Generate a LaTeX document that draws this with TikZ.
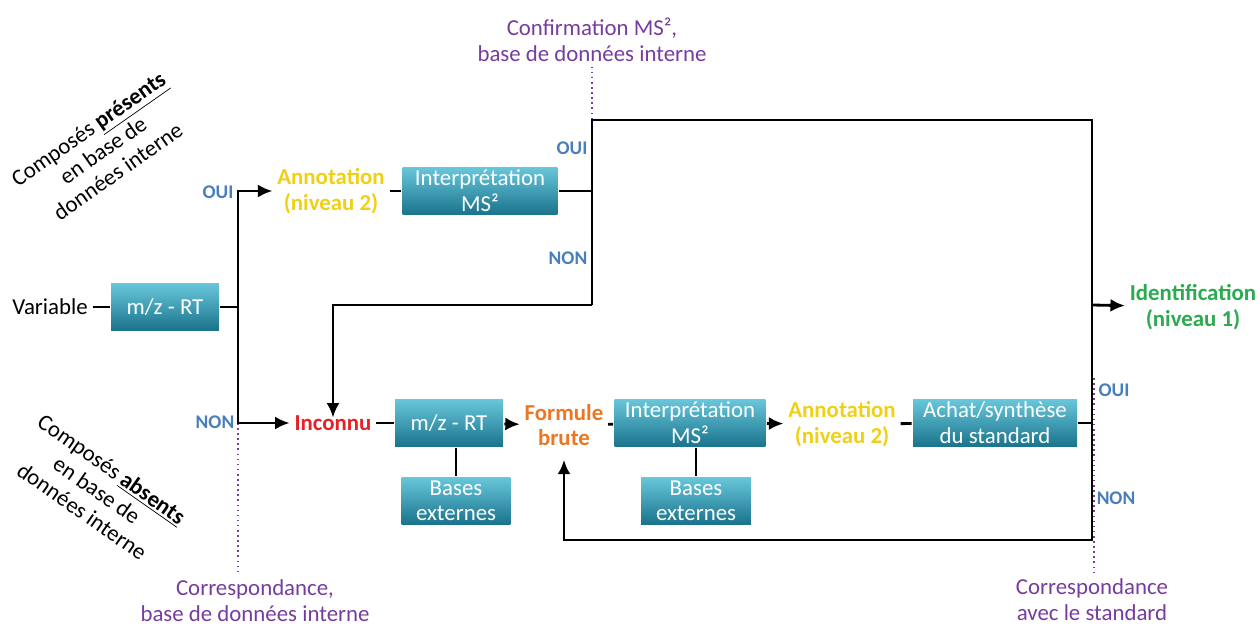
\documentclass[tikz,border=0pt]{standalone}
\usepackage{fontspec}
\setmainfont{Carlito}
\usetikzlibrary{arrows.meta,positioning,calc}

\definecolor{boxtop}{RGB}{104,198,218}
\definecolor{boxbot}{RGB}{26,116,140}
\definecolor{annyellow}{RGB}{240,208,20}
\definecolor{unkred}{RGB}{232,32,40}
\definecolor{brorange}{RGB}{236,118,34}
\definecolor{idgreen}{RGB}{44,170,80}
\definecolor{ynblue}{RGB}{74,126,187}
\definecolor{notepurple}{RGB}{118,60,158}

\newcommand{\bodyfs}{\fontsize{13}{14.7}\selectfont}

\tikzset{
  procbox/.style={draw=none, top color=boxtop, bottom color=boxbot, text=white,
    align=center, inner sep=1pt, minimum height=0.94cm, font=\bodyfs},
  status/.style={align=center, inner sep=2pt, font=\bodyfs\bfseries},
  annot/.style={status, text=annyellow},
  yesno/.style={inner sep=1pt, text=ynblue, font=\fontsize{11}{13}\selectfont\bfseries},
  note/.style={align=center, inner sep=2pt, text=notepurple, font=\bodyfs},
  tilted/.style={align=center, inner sep=1pt, font=\bodyfs},
  guide/.style={notepurple, dotted, line width=0.9pt}
}

\begin{document}
\begin{tikzpicture}[x=0.02cm, y=-0.02cm, >={Latex[length=2.9mm,width=2.6mm]}, line width=1.6pt]
  \useasboundingbox (0,0) rectangle (1260,625);

  % left side
  \node[inner sep=2pt, font=\bodyfs] (var) at (50,307) {Variable};
  \node[procbox, minimum width=2.16cm] (mz1) at (165,307) {m/z - RT};
  \coordinate (split) at (238,307);
  \node[yesno] (oui1) at (218,192) {OUI};
  \node[yesno] (non1) at (215,422) {NON};

  \node[tilted, rotate=35] (pres) at (103,150) {Composés \underline{\textbf{présents}}\\en base de\\données interne};
  \node[tilted, rotate=-35] (abs) at (97,490) {Composés \underline{\textbf{absents}}\\en base de\\données interne};

  % upper branch
  \node[annot] (ann1) at (331,191) {Annotation\\(niveau 2)};
  \node[procbox, minimum width=3.1cm] (int1) at (480,191) {Interprétation\\MS²};
  \coordinate (msq) at (592,191);
  \coordinate (msqtop) at (592,120);
  \coordinate (msqbot) at (592,305);
  \coordinate (stdtop) at (1092,120);
  \coordinate (stdid) at (1092,305);
  \coordinate (stdmid) at (1092,423);
  \coordinate (stdbot) at (1092,540);
  \node[yesno] (oui2) at (572,148) {OUI};
  \node[yesno] (non2) at (568,258) {NON};

  % lower branch
  \node[status, text=unkred] (inc) at (333,423) {Inconnu};
  \node[procbox, minimum width=2.16cm] (mz2) at (449,423) {m/z - RT};
  \node[status, text=brorange] (fb) at (564,425) {Formule\\brute};
  \node[procbox, minimum width=3.02cm] (int2) at (690,423) {Interprétation\\MS²};
  \node[annot] (ann2) at (842,424) {Annotation\\(niveau 2)};
  \node[procbox, minimum width=3.28cm] (ach) at (995,423) {Achat/synthèse\\du standard};
  \node[procbox, minimum width=2.18cm, below=0.56cm of mz2, xshift=0.14cm] (ext1) {Bases\\externes};
  \node[procbox, minimum width=2.2cm, below=0.56cm of int2, xshift=0.12cm] (ext2) {Bases\\externes};
  \node[yesno] (oui3) at (1114,390) {OUI};
  \node[yesno] (non3) at (1116,498) {NON};

  \node[status, text=idgreen] (ident) at (1193,307) {Identification\\(niveau 1)};

  % notes
  \node[note] (conf) at (592,40) {Confirmation MS²,\\base de données interne};
  \node[note] (corr1) at (255,601) {Correspondance,\\base de données interne};
  \node[note] (corr2) at (1092,600) {Correspondance\\avec le standard};

  \draw[guide] (conf) -- (msqtop);
  \draw[guide] (split |- inc) -- (split |- corr1.north);
  \draw[guide] ([xshift=1pt]stdmid) ++(0,-45) -- ([xshift=1pt]stdmid |- corr2.north);

  % connectors
  \draw (var) -- (mz1);
  \draw (mz1) -- (split);
  \draw[->] (split) |- (ann1);
  \draw[->] (split) |- (inc);
  \draw (ann1) -- (int1);
  \draw (int1) -- (msq);
  \draw[->, shorten >=-4pt] (msqbot) -| (inc);
  \draw[->, shorten >=5pt] (msqbot) -- (msqtop) -- (stdtop) -- (stdbot) -| (fb);
  \draw[->] (stdid) -- (ident);
  \draw (inc) -- (mz2);
  \draw[->] (mz2) -- (fb);
  \draw (fb) -- (int2);
  \draw[->] (int2) -- (ann2);
  \draw (ann2) -- (ach);
  \draw (ach) -- (stdmid);
  \draw (ext1) -- (ext1 |- mz2.south);
  \draw (ext2) -- (ext2 |- int2.south);
\end{tikzpicture}
\end{document}
